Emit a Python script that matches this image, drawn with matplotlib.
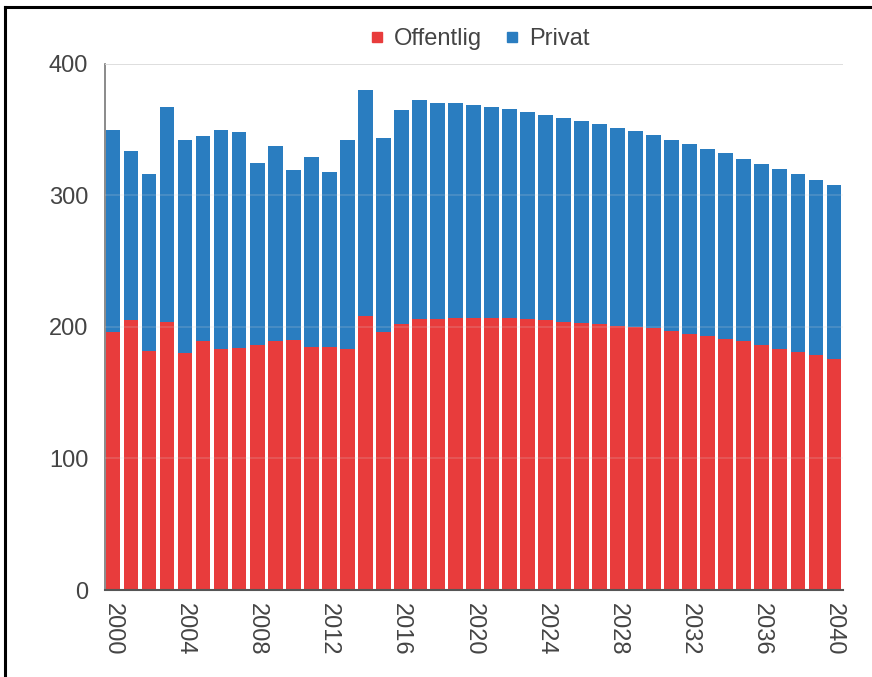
import matplotlib
matplotlib.use('Agg')
import matplotlib.pyplot as plt
from matplotlib.lines import Line2D
import numpy as np

plt.rcParams['font.family'] = ['Liberation Sans', 'DejaVu Sans']

# Years 2000-2040, values read per year
years = list(range(2000, 2041))
offentlig = [196, 205, 182, 204, 180, 189, 183, 184, 186, 189, 190, 185, 185, 183, 208, 196,
             202, 206, 206, 207, 207, 207, 206.5, 206, 205, 204, 203, 202, 201, 200, 199,
             197, 195, 193, 191, 189, 186, 183.5, 181, 178.5, 175.5]
totals = [350, 334, 316, 367, 342, 345, 350, 348, 325, 338, 319, 329, 318, 342, 380, 344,
          365, 372.5, 370, 370, 369, 367.5, 365.5, 363.5, 361.5, 359, 357, 354.5, 351.5, 349, 346,
          342.5, 339, 335.5, 332, 328, 324, 320, 316, 312, 308]
privat = [t - o for t, o in zip(totals, offentlig)]

red = '#e83c3c'
blue = '#2a7dc0'
text_col = '#444444'

fig = plt.figure(figsize=(8.72, 6.77), dpi=100)
ax = fig.add_axes([0.1204, 0.1285, 0.8463, 0.777])

ax.bar(years, offentlig, width=0.82, color=red, zorder=2, label='Offentlig')
ax.bar(years, privat, bottom=offentlig, width=0.82, color=blue, zorder=2, label='Privat')

ax.set_xlim(1999.56, 2040.5)
ax.set_ylim(0, 400)
ax.set_yticks([0, 100, 200, 300, 400])
ax.set_xticks(list(range(2000, 2041, 4)))
ax.tick_params(axis='x', length=0, pad=9, labelsize=17, labelcolor=text_col, labelrotation=-90)
ax.tick_params(axis='y', length=0, pad=12, labelsize=17, labelcolor=text_col)
for lbl in ax.get_xticklabels():
    lbl.set_va('top')

# light grid drawn over the bars
for v in [100, 200, 300, 400]:
    ax.axhline(v, color='#d8d8d8', lw=1.2, alpha=0.2 if v < 400 else 1.0, zorder=3)

for s in ['top', 'right']:
    ax.spines[s].set_visible(False)
ax.spines['left'].set_color('#777777')
ax.spines['left'].set_linewidth(1.2)
ax.spines['bottom'].set_color('#555555')
ax.spines['bottom'].set_linewidth(1.5)
ax.spines['bottom'].set_zorder(4)

handles = [Line2D([], [], marker='s', ls='none', color=red, markersize=7),
           Line2D([], [], marker='s', ls='none', color=blue, markersize=7)]
leg = fig.legend(handles, ['Offentlig', 'Privat'], loc='center', bbox_to_anchor=(0.55, 0.942),
                 ncol=2, frameon=False, fontsize=17, handlelength=0.6, handletextpad=0.4,
                 columnspacing=1.0)
for t in leg.get_texts():
    t.set_color(text_col)

# outer frame lines (top and left)
fig.add_artist(Line2D([0.006, 1.0], [0.990, 0.990], color='black', lw=2.2, transform=fig.transFigure))
fig.add_artist(Line2D([0.006, 0.006], [0.0, 0.990], color='black', lw=2.2, transform=fig.transFigure))

fig.savefig('out.png', dpi=100)
